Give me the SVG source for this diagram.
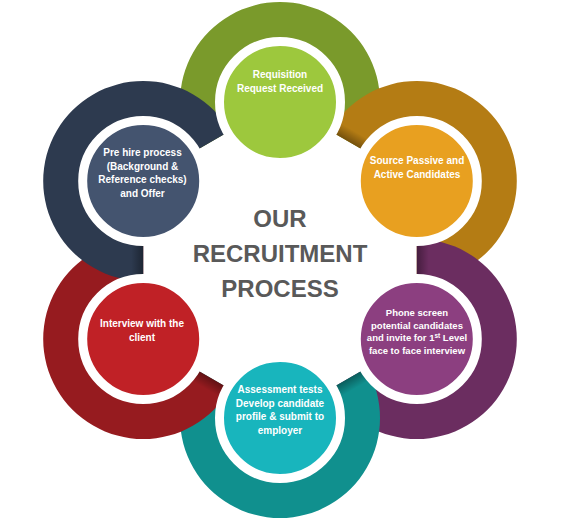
<svg xmlns="http://www.w3.org/2000/svg" width="568" height="522" viewBox="0 0 568 522">
<style>
.lbl{font-family:"Liberation Sans",Arial,sans-serif;font-weight:bold;font-size:10px;fill:#ffffff;text-anchor:middle}
.sm{font-size:9.5px}
.title{font-family:"Liberation Sans",Arial,sans-serif;font-weight:bold;font-size:24px;fill:#595959;text-anchor:middle}
.disc{stroke:#ffffff;stroke-width:9}
</style>
<defs>
<path id="ring" d="M 100 0 A 100 100 0 1 1 -50 -86.603 L -31 -53.694 A 62 62 0 1 0 62 0 Z"/>
<linearGradient id="sh" gradientUnits="userSpaceOnUse" x1="0" y1="0" x2="0" y2="12">
<stop offset="0" stop-color="#000" stop-opacity="0.35"/>
<stop offset="1" stop-color="#000" stop-opacity="0"/>
</linearGradient>
<path id="shade" d="M 100 0 A 100 100 0 0 1 98.481 17.365 L 61.058 10.766 A 62 62 0 0 0 62 0 Z" fill="url(#sh)"/>
</defs>
<rect width="568" height="522" fill="#ffffff"/>
<g id="connectors">
<g transform="translate(280 102) rotate(150)"><use href="#ring" fill="#7a9a2b"/><use href="#shade"/></g>
<g transform="translate(416.8 181) rotate(210)"><use href="#ring" fill="#b47c14"/><use href="#shade"/></g>
<g transform="translate(416.8 339) rotate(270)"><use href="#ring" fill="#6b2d60"/><use href="#shade"/></g>
<g transform="translate(280 418) rotate(330)"><use href="#ring" fill="#10908e"/><use href="#shade"/></g>
<g transform="translate(143.2 339) rotate(30)"><use href="#ring" fill="#961b1f"/><use href="#shade"/></g>
<g transform="translate(143.2 181) rotate(90)"><use href="#ring" fill="#2d3a4f"/><use href="#shade"/></g>
</g>
<g id="node-requisition">
<circle class="disc" cx="280" cy="102" r="60.5" fill="#9dc83d"/>
<text class="lbl" x="280" y="78"><tspan x="280">Requisition</tspan><tspan x="280" dy="14">Request Received</tspan></text>
</g>
<g id="node-source">
<circle class="disc" cx="416.8" cy="181" r="60.5" fill="#e8a020"/>
<text class="lbl" x="417" y="164"><tspan x="417">Source Passive and</tspan><tspan x="417" dy="14">Active Candidates</tspan></text>
</g>
<g id="node-phone">
<circle class="disc" cx="416.8" cy="339" r="60.5" fill="#8c3f80"/>
<text class="lbl sm" x="417" y="316"><tspan x="417">Phone screen</tspan><tspan x="417" dy="12.7">potential candidates</tspan><tspan x="417" dy="12.7">and invite for 1<tspan dy="-3.5" font-size="6.5">st</tspan><tspan dy="3.5"> Level</tspan></tspan><tspan x="417" dy="12.7">face to face interview</tspan></text>
</g>
<g id="node-assessment">
<circle class="disc" cx="280" cy="418" r="60.5" fill="#18b5bd"/>
<text class="lbl" x="280" y="393"><tspan x="280">Assessment tests</tspan><tspan x="280" dy="13.5">Develop candidate</tspan><tspan x="280" dy="13.5">profile &amp; submit to</tspan><tspan x="280" dy="13.5">employer</tspan></text>
</g>
<g id="node-interview">
<circle class="disc" cx="143.2" cy="339" r="60.5" fill="#c02126"/>
<text class="lbl" x="142" y="327"><tspan x="142">Interview with the</tspan><tspan x="142" dy="14">client</tspan></text>
</g>
<g id="node-prehire">
<circle class="disc" cx="143.2" cy="181" r="60.5" fill="#44546f"/>
<text class="lbl" x="142.5" y="156"><tspan x="142.5">Pre hire process</tspan><tspan x="142.5" dy="13.6">(Background &amp;</tspan><tspan x="142.5" dy="13.6">Reference checks)</tspan><tspan x="142.5" dy="13.6">and Offer</tspan></text>
</g>
<g id="title">
<text class="title" x="280" y="227">OUR</text>
<text class="title" x="280" y="262">RECRUITMENT</text>
<text class="title" x="280" y="297">PROCESS</text>
</g>
</svg>
